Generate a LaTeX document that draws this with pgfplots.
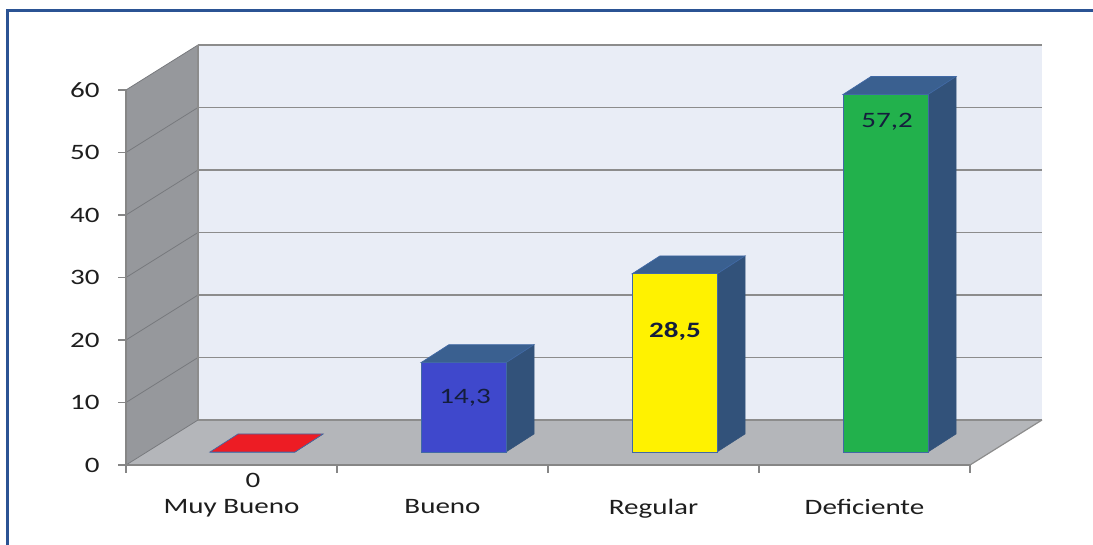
\documentclass[border=0pt]{standalone}
\usepackage{pgfplots}
\pgfplotsset{compat=1.18}
\usepackage{fontspec}
\setmainfont[FakeStretch=1.32]{Carlito}
\definecolor{wallback}{RGB}{233,237,246}
\definecolor{wallside}{RGB}{150,152,156}
\definecolor{floorc}{RGB}{180,182,186}
\definecolor{gridc}{RGB}{140,140,140}
\definecolor{sidegrid}{RGB}{120,122,126}
\definecolor{barside}{RGB}{50,82,122}
\definecolor{bartop}{RGB}{58,96,144}
\definecolor{barline}{RGB}{65,105,165}
\definecolor{barred}{RGB}{237,28,36}
\definecolor{barblue}{RGB}{63,72,204}
\definecolor{baryellow}{RGB}{255,242,0}
\definecolor{bargreen}{RGB}{34,177,76}
\definecolor{framec}{RGB}{43,83,148}
\definecolor{txt}{RGB}{30,30,30}
\definecolor{valtxt}{RGB}{20,30,60}
\definecolor{axisc}{RGB}{134,134,134}
% #1 category index, #2 value, #3 front colour, #4 top colour
\newcommand{\barthree}[4]{%
  \pgfmathsetmacro\xa{#1-0.102}%
  \pgfmathsetmacro\xb{#1+0.301}%
  \pgfmathsetmacro\xc{#1+0.301+0.1327}%
  \pgfmathsetmacro\xd{#1-0.102+0.1327}%
  \pgfmathsetmacro\yf{2.08+#2}%
  \pgfmathsetmacro\yb{4.96+#2}%
  \addplot[fill=barside, draw=barside, line width=0.5pt] coordinates {(\xb,2.08) (\xc,4.96) (\xc,\yb) (\xb,\yf)} -- cycle;
  \addplot[fill=#4, draw=barline, line width=0.7pt] coordinates {(\xa,\yf) (\xb,\yf) (\xc,\yb) (\xd,\yb)} -- cycle;
  \addplot[fill=#3, draw=barline, line width=0.9pt] coordinates {(\xa,2.08) (\xb,2.08) (\xb,\yf) (\xa,\yf)} -- cycle;
}
\begin{document}
\fontsize{22}{26}\selectfont
\begin{tikzpicture}
\begin{axis}[
  scale only axis, width=844pt, height=375pt,
  xmin=-0.5, xmax=3.5, ymin=0, ymax=60,
  clip=false, axis on top,
  axis x line=bottom, axis y line=left,
  axis line style={-, draw=axisc, line width=1.2pt},
  tick style={draw=axisc, line width=1.2pt},
  tick align=outside, major tick length=8pt,
  ytick={0,10,...,60},
  xtick={-0.5,0.5,1.5,2.5,3.5}, xticklabels={},
  extra x ticks={0,1,2,3},
  extra x tick labels={Muy Bueno, Bueno, Regular, Deficiente},
  extra x tick style={major tick length=0pt, tick label style={yshift=-27pt}},
  /pgf/number format/assume math mode=true,
  ticklabel style={font=\fontsize{22}{26}\selectfont, text=txt},
  yticklabel style={xshift=-11pt},
]
% walls and floor
\addplot[fill=wallback, draw=none] coordinates {(-0.1588,7.2) (3.8412,7.2) (3.8412,67.2) (-0.1588,67.2)} -- cycle;
\addplot[fill=wallside, draw=none] coordinates {(-0.5,0) (-0.1588,7.2) (-0.1588,67.2) (-0.5,60)} -- cycle;
\addplot[fill=floorc, draw=none] coordinates {(-0.5,0) (3.5,0) (3.8412,7.2) (-0.1588,7.2)} -- cycle;
% grid lines: side wall
\addplot[sidegrid, line width=0.8pt] coordinates {(-0.5,0) (-0.1588,7.2)};
\addplot[sidegrid, line width=0.8pt] coordinates {(-0.5,10) (-0.1588,17.2)};
\addplot[sidegrid, line width=0.8pt] coordinates {(-0.5,20) (-0.1588,27.2)};
\addplot[sidegrid, line width=0.8pt] coordinates {(-0.5,30) (-0.1588,37.2)};
\addplot[sidegrid, line width=0.8pt] coordinates {(-0.5,40) (-0.1588,47.2)};
\addplot[sidegrid, line width=0.8pt] coordinates {(-0.5,50) (-0.1588,57.2)};
\addplot[sidegrid, line width=0.8pt] coordinates {(-0.5,60) (-0.1588,67.2)};
% grid lines: back wall
\addplot[gridc, line width=1.6pt] coordinates {(-0.1588,7.2) (3.8412,7.2)};
\addplot[gridc, line width=1.6pt] coordinates {(-0.1588,17.2) (3.8412,17.2)};
\addplot[gridc, line width=1.6pt] coordinates {(-0.1588,27.2) (3.8412,27.2)};
\addplot[gridc, line width=1.6pt] coordinates {(-0.1588,37.2) (3.8412,37.2)};
\addplot[gridc, line width=1.6pt] coordinates {(-0.1588,47.2) (3.8412,47.2)};
\addplot[gridc, line width=1.6pt] coordinates {(-0.1588,57.2) (3.8412,57.2)};
\addplot[gridc, line width=1.6pt] coordinates {(-0.1588,67.2) (3.8412,67.2)};
\addplot[gridc, line width=1.2pt] coordinates {(-0.1588,7.2) (-0.1588,67.2)};
\addplot[gridc, line width=1.2pt] coordinates {(3.5,0) (3.8412,7.2)};
% bars
\barthree{0}{0}{barred}{barred}
\barthree{1}{14.3}{barblue}{bartop}
\barthree{2}{28.5}{baryellow}{bartop}
\barthree{3}{57.2}{bargreen}{bartop}
% value labels
\node[text=txt] at (axis cs:0.102,-2.4) {0};
\node[text=valtxt] at (axis cs:1.107,10.72) {14,3};
\node[text=valtxt, font=\bfseries] at (axis cs:2.102,21.3) {28,5};
\node[text=valtxt] at (axis cs:3.107,54.9) {57,2};
% frame (left and top edges; right edge lies beyond the picture)
\addplot[framec, line width=3pt] coordinates {(-1.064,-14) (-1.064,72.64) (4.2,72.64)};
\coordinate (bbl) at (axis cs:-1.0972,-12.8);
\coordinate (btr) at (axis cs:4.0829,74.4);
\end{axis}
\pgfresetboundingbox
\path (bbl) rectangle (btr);
\end{tikzpicture}
\end{document}
